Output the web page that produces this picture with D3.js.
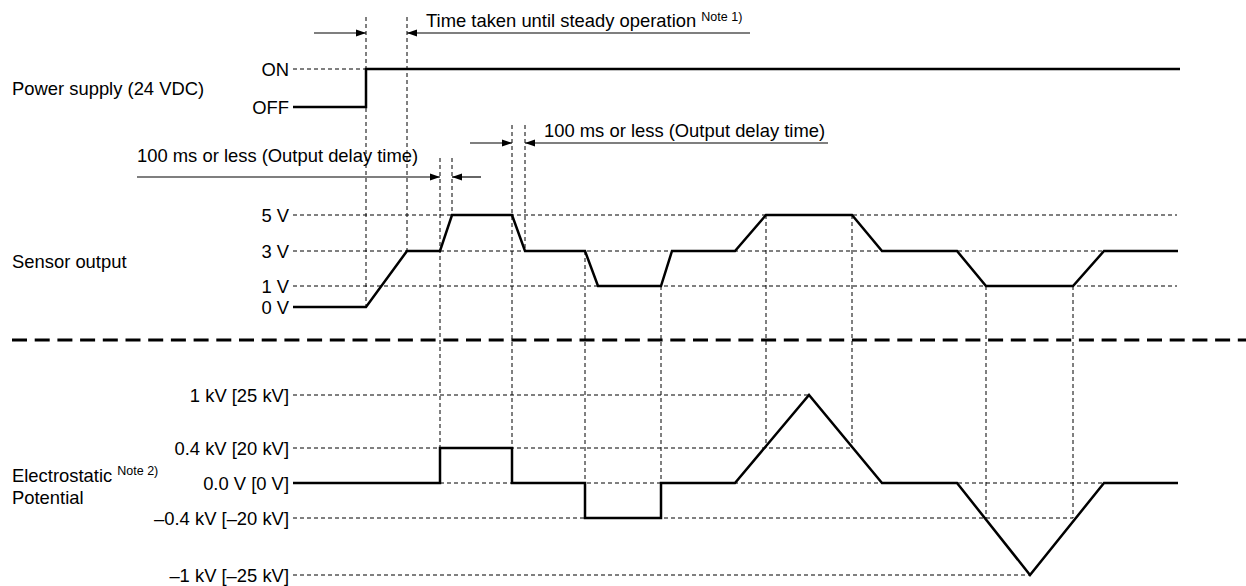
<!DOCTYPE html>
<html>
<head>
<meta charset="utf-8">
<script src="https://cdn.jsdelivr.net/npm/d3@7"></script>
<style>
  body { margin: 0; background: #fff; }
  svg text { font-family: "Liberation Sans", Arial, sans-serif; fill: #000; }
</style>
</head>
<body>
<div id="chart"></div>
<script>
// time axis in arbitrary units (0 = start of the traces)
var powerTimes = [0, 71, 71, 885];
var powerLevels = ["OFF", "OFF", "ON", "ON"];

var sensorTimes  = [0, 71, 112, 145, 157, 217, 230, 290, 303, 366, 377, 440, 471, 557, 587, 662, 691, 778, 809, 883];
var sensorVolts  = [0, 0, 3, 3, 5, 5, 3, 3, 1, 1, 3, 3, 5, 5, 3, 3, 1, 1, 3, 3];

var elecTimes = [0, 145, 145, 217, 217, 290, 290, 366, 366, 440, 514, 587, 662, 735, 809, 883];
var elecKV    = [0, 0, 0.4, 0.4, 0, 0, -0.4, -0.4, 0, 0, 1, 0, 0, -1, 0, 0];

var powerTicks = ["ON", "OFF"];
var sensorTickValues = [5, 3, 1, 0];
var sensorTickLabels = ["5 V", "3 V", "1 V", "0 V"];
var elecTickValues = [1, 0.4, 0, -0.4, -1];
var elecTickLabels = ["1 kV [25 kV]", "0.4 kV [20 kV]", "0.0 V [0 V]", "\u20130.4 kV [\u201320 kV]", "\u20131 kV [\u201325 kV]"];
// how far each dashed reference line runs (time units)
var sensorGridEnd = [882, 882, 882, null];
var elecGridEnd = [514, 557, 809, 778, 735];
var powerGridEnd = [71, null];

// vertical dashed guide lines: time, start (row or level), end level
var guideTimes = [71, 112, 145, 157, 217, 230, 290, 366, 471, 557, 691, 778];
var guideFrom  = ["top", "top", "rowC", "rowC", "rowB", "rowB", "s3", "s1", "s5", "s5", "s1", "s1"];
var guideTo    = ["s0", "s3", "e0.4", "s5", "e0.4", "s3", "e-0.4", "e-0.4", "e0.4", "e0.4", "e-0.4", "e-0.4"];

var sideLabels = ["Power supply (24 VDC)", "Sensor output", "Electrostatic", "Potential"];
var noteTexts = ["Note 1)", "Note 2)"];
var delayText = "100 ms or less (Output delay time)";
var steadyText = "Time taken until steady operation";

var width = 1246, height = 586;
var fs = 18.4;

var svg = d3.select("#chart").append("svg")
    .attr("width", width)
    .attr("height", height);

var x = d3.scaleLinear().domain([0, 883]).range([295, 1178]);
var yPower = d3.scalePoint().domain(["ON", "OFF"]).range([69, 107]);
var ySensor = d3.scaleLinear().domain([0, 1, 3, 5]).range([307, 286, 251, 215]);
var yElec = d3.scaleLinear().domain([-1, -0.4, 0, 0.4, 1]).range([575, 518, 483, 448, 395]);
var rows = { top: 17, rowB: 125, rowC: 158 };

function levelY(key) {
    if (rows[key] !== undefined) return rows[key];
    if (key[0] === "s") return ySensor(+key.slice(1));
    return yElec(+key.slice(1));
}

var labelX = 289, gridX0 = 293;

// dashed reference lines
function drawGrid(vals, ends, yScale) {
    vals.forEach(function(v, i) {
        if (ends[i] == null) return;
        svg.append("line")
            .attr("x1", gridX0).attr("x2", x(ends[i]))
            .attr("y1", yScale(v)).attr("y2", yScale(v))
            .attr("stroke", "#000").attr("stroke-width", 1)
            .attr("stroke-dasharray", "4,3");
    });
}
drawGrid(powerTicks, powerGridEnd, yPower);
drawGrid(sensorTickValues, sensorGridEnd, ySensor);
drawGrid(elecTickValues, elecGridEnd, yElec);

// vertical guides
guideTimes.forEach(function(t, i) {
    svg.append("line")
        .attr("x1", x(t)).attr("x2", x(t))
        .attr("y1", levelY(guideFrom[i])).attr("y2", levelY(guideTo[i]))
        .attr("stroke", "#000").attr("stroke-width", 1)
        .attr("stroke-dasharray", "4,3");
});

// tick labels
function drawTicks(vals, labels, yScale) {
    vals.forEach(function(v, i) {
        svg.append("text")
            .attr("x", labelX).attr("y", yScale(v) + 6.5)
            .attr("text-anchor", "end")
            .style("font-size", fs + "px")
            .text(labels[i]);
    });
}
drawTicks(powerTicks, powerTicks, yPower);
drawTicks(sensorTickValues, sensorTickLabels, ySensor);
drawTicks(elecTickValues, elecTickLabels, yElec);

// signal traces
function trace(times, vals, yScale) {
    var pts = times.map(function(t, i) { return [x(t), yScale(vals[i])]; });
    pts[0][0] = gridX0;
    svg.append("path")
        .attr("d", d3.line()(pts))
        .attr("fill", "none")
        .attr("stroke", "#000")
        .attr("stroke-width", 2.5)
        .attr("stroke-linejoin", "miter");
}
trace(powerTimes, powerLevels, yPower);
trace(sensorTimes, sensorVolts, ySensor);
trace(elecTimes, elecKV, yElec);

// side labels
svg.append("text").attr("x", 12).attr("y", 95).style("font-size", fs + "px").text(sideLabels[0]);
svg.append("text").attr("x", 12).attr("y", 268).style("font-size", fs + "px").text(sideLabels[1]);
var el = svg.append("text").attr("x", 12).attr("y", 482).style("font-size", fs + "px");
el.append("tspan").text(sideLabels[2] + " ");
el.append("tspan").attr("dy", -7).style("font-size", "12.5px").text(noteTexts[1]);
svg.append("text").attr("x", 12).attr("y", 504).style("font-size", fs + "px").text(sideLabels[3]);

// separator
svg.append("line")
    .attr("x1", 12).attr("x2", width)
    .attr("y1", 340).attr("y2", 340)
    .attr("stroke", "#000").attr("stroke-width", 3)
    .attr("stroke-dasharray", "15,7.7");

// dimension arrows
function arrow(fromPx, toPx, y) {
    svg.append("line")
        .attr("x1", fromPx).attr("x2", toPx)
        .attr("y1", y).attr("y2", y)
        .attr("stroke", "#000").attr("stroke-width", 1.2);
    var dir = toPx > fromPx ? 1 : -1;
    svg.append("path")
        .attr("d", d3.line()([[toPx, y], [toPx - dir * 10, y - 3.5], [toPx - dir * 10, y + 3.5]]) + "Z")
        .attr("fill", "#000");
}

// Note 1 row
arrow(x(19), x(71), 33);
arrow(x(455), x(112), 33);
var st = svg.append("text").attr("x", x(131)).attr("y", 27).style("font-size", fs + "px");
st.append("tspan").text(steadyText + " ");
st.append("tspan").attr("dy", -6).style("font-size", "12.5px").text(noteTexts[0]);

// first delay row (lower)
arrow(x(-158), x(145), 177);
arrow(x(186), x(157), 177);
svg.append("text").attr("x", x(-158)).attr("y", 162).style("font-size", fs + "px").text(delayText);

// second delay row (upper)
arrow(x(175), x(217), 143);
arrow(x(533), x(230), 143);
svg.append("text").attr("x", x(249)).attr("y", 137).style("font-size", fs + "px").text(delayText);
</script>
</body>
</html>
